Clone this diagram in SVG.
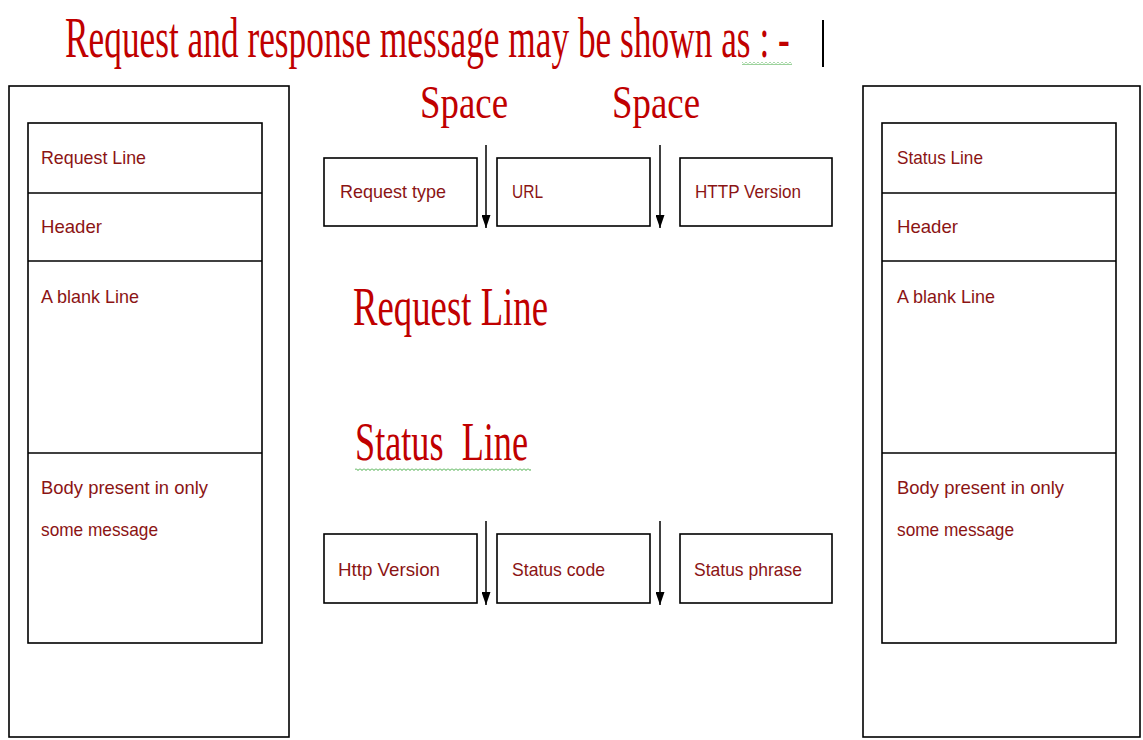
<svg xmlns="http://www.w3.org/2000/svg" width="1143" height="740" viewBox="0 0 1143 740">
<style>
.box{fill:#fff;stroke:#000;stroke-width:1.6}
.div{stroke:#000;stroke-width:1.6}
.lbl{font-family:"Liberation Sans",Arial,sans-serif;font-size:19px;fill:#8B1414}
.big{font-family:"Liberation Serif","Times New Roman",serif;fill:#C00000}
.arr{stroke:#000;stroke-width:1.5;fill:none}
</style>
<defs>
<marker id="ah" markerWidth="13" markerHeight="9" refX="13" refY="4.5" orient="auto" markerUnits="userSpaceOnUse" viewBox="0 0 13 9">
<path d="M0,0 L13,4.5 L0,9 Z" fill="#000"/>
</marker>
<pattern id="squig" x="0" y="0" width="4" height="3" patternUnits="userSpaceOnUse">
<path d="M0,0.5 L2,2.5 L4,0.5" stroke="#3aa63a" stroke-width="1" fill="none"/>
</pattern>
</defs>
<rect width="1143" height="740" fill="#fff"/>
<g id="title">
<text class="big" transform="translate(65,57) scale(0.62,1)" x="0" y="0" font-size="58" textLength="1169" lengthAdjust="spacingAndGlyphs">Request and response message may be shown as : -</text>
<line x1="823" y1="20" x2="823" y2="67" stroke="#000" stroke-width="2"/>
<rect x="742" y="62" width="50" height="3" fill="url(#squig)"/>
</g>

<g id="request-message">
<rect class="box" x="9" y="86" width="280" height="651"/>
<rect class="box" x="28" y="123" width="234" height="520"/>
<line class="div" x1="28" y1="193" x2="262" y2="193"/>
<line class="div" x1="28" y1="261" x2="262" y2="261"/>
<line class="div" x1="28" y1="453" x2="262" y2="453"/>
<text class="lbl" x="41" y="164" textLength="105" lengthAdjust="spacingAndGlyphs">Request Line</text>
<text class="lbl" x="41" y="233" textLength="61" lengthAdjust="spacingAndGlyphs">Header</text>
<text class="lbl" x="41" y="303" textLength="98" lengthAdjust="spacingAndGlyphs">A blank Line</text>
<text class="lbl" x="41" y="494" textLength="167" lengthAdjust="spacingAndGlyphs">Body present in only</text>
<text class="lbl" x="41" y="536" textLength="117" lengthAdjust="spacingAndGlyphs">some message</text>
</g>

<g id="response-message">
<rect class="box" x="863" y="86" width="277" height="651"/>
<rect class="box" x="882" y="123" width="234" height="520"/>
<line class="div" x1="882" y1="193" x2="1116" y2="193"/>
<line class="div" x1="882" y1="261" x2="1116" y2="261"/>
<line class="div" x1="882" y1="453" x2="1116" y2="453"/>
<text class="lbl" x="897" y="164" textLength="86" lengthAdjust="spacingAndGlyphs">Status Line</text>
<text class="lbl" x="897" y="233" textLength="61" lengthAdjust="spacingAndGlyphs">Header</text>
<text class="lbl" x="897" y="303" textLength="98" lengthAdjust="spacingAndGlyphs">A blank Line</text>
<text class="lbl" x="897" y="494" textLength="167" lengthAdjust="spacingAndGlyphs">Body present in only</text>
<text class="lbl" x="897" y="536" textLength="117" lengthAdjust="spacingAndGlyphs">some message</text>
</g>

<g id="space-labels">
<text class="big" x="420" y="118" font-size="46" textLength="88" lengthAdjust="spacingAndGlyphs">Space</text>
<text class="big" x="612" y="118" font-size="46" textLength="88" lengthAdjust="spacingAndGlyphs">Space</text>
</g>

<g id="request-type">
<rect class="box" x="324" y="158" width="153" height="68"/>
<text class="lbl" x="340" y="198" textLength="106" lengthAdjust="spacingAndGlyphs">Request type</text>
</g>
<g id="url">
<rect class="box" x="497" y="158" width="153" height="68"/>
<text class="lbl" x="512" y="198" textLength="31" lengthAdjust="spacingAndGlyphs">URL</text>
</g>
<g id="http-version-req">
<rect class="box" x="680" y="158" width="152" height="68"/>
<text class="lbl" x="695" y="198" textLength="106" lengthAdjust="spacingAndGlyphs">HTTP Version</text>
</g>

<g id="request-line-title">
<text class="big" x="353" y="325" font-size="54" textLength="195" lengthAdjust="spacingAndGlyphs">Request Line</text>
</g>
<g id="status-line-title">
<text class="big" x="355" y="460" font-size="54" textLength="173" lengthAdjust="spacingAndGlyphs" xml:space="preserve">Status  Line</text>
<rect x="355" y="468" width="176" height="3" fill="url(#squig)"/>
</g>

<g id="http-version-resp">
<rect class="box" x="324" y="534" width="153" height="69"/>
<text class="lbl" x="338" y="576" textLength="102" lengthAdjust="spacingAndGlyphs">Http Version</text>
</g>
<g id="status-code">
<rect class="box" x="497" y="534" width="153" height="69"/>
<text class="lbl" x="512" y="576" textLength="93" lengthAdjust="spacingAndGlyphs">Status code</text>
</g>
<g id="status-phrase">
<rect class="box" x="680" y="534" width="152" height="69"/>
<text class="lbl" x="694" y="576" textLength="108" lengthAdjust="spacingAndGlyphs">Status phrase</text>
</g>

<g id="connectors">
<line class="arr" x1="486" y1="145" x2="486" y2="228" marker-end="url(#ah)"/>
<line class="arr" x1="660" y1="145" x2="660" y2="228" marker-end="url(#ah)"/>
<line class="arr" x1="486" y1="521" x2="486" y2="605" marker-end="url(#ah)"/>
<line class="arr" x1="660" y1="521" x2="660" y2="605" marker-end="url(#ah)"/>
</g>
</svg>
